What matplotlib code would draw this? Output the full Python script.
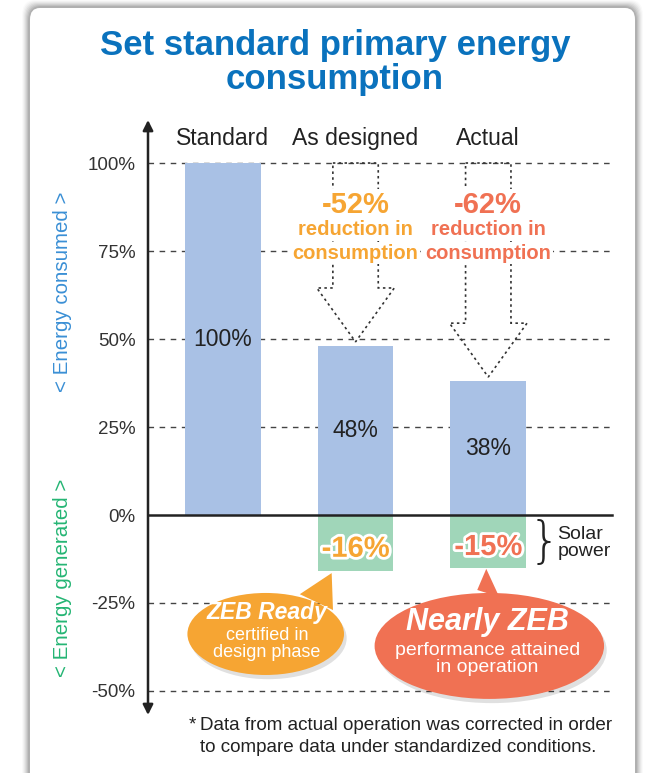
import matplotlib
matplotlib.use("Agg")
import matplotlib.pyplot as plt
from matplotlib.patches import FancyBboxPatch, Ellipse, Polygon
import matplotlib.patheffects as pe

# ---- data ----
categories = ["Standard", "As designed", "Actual"]
consumed = [100, 48, 38]
generated = [-16, -15]          # solar power for "As designed" and "Actual"
reductions = ["-52%", "-62%"]
yticks = [100, 75, 50, 25, 0, -25, -50]
ytick_labels = ["100%", "75%", "50%", "25%", "0%", "-25%", "-50%"]

plt.rcParams['font.family'] = ['Liberation Sans', 'DejaVu Sans']

W, H = 650, 773
fig = plt.figure(figsize=(6.5, 7.73), dpi=100)
fig.patch.set_facecolor('white')

def fx(px): return px / W
def fy(py): return 1 - py / H

# card with soft shadow
for i, a in enumerate([0.02, 0.03, 0.04, 0.05, 0.06, 0.07, 0.08]):
    g = 8 - i
    fig.patches.append(FancyBboxPatch((fx(30 - g), fy(800)), fx(605 + 2 * g), fy(8 - g) - fy(800),
                                      boxstyle="round,pad=0,rounding_size=0.02",
                                      transform=fig.transFigure, facecolor='black', alpha=a,
                                      edgecolor='none', zorder=-10))
fig.patches.append(FancyBboxPatch((fx(30), fy(800)), fx(605), fy(8) - fy(800),
                                  boxstyle="round,pad=0,rounding_size=0.015",
                                  transform=fig.transFigure, facecolor='white',
                                  edgecolor='none', zorder=-9))

title_c = '#0a72bd'
fig.text(fx(335), fy(45), "Set standard primary energy", ha='center', va='center',
         fontsize=25, fontweight='bold', color=title_c)
fig.text(fx(335), fy(80), "consumption", ha='center', va='center',
         fontsize=25, fontweight='bold', color=title_c)

ax = fig.add_axes([fx(148), fy(715), fx(615) - fx(148), fy(120) - fy(715)])
ax.set_facecolor('none')
ax.set_xlim(-0.564, 2.955)
ax.set_ylim(-56.82, 112.22)
for s in ax.spines.values():
    s.set_visible(False)
ax.set_xticks([])
ax.set_yticks(yticks)
ax.set_yticklabels(ytick_labels, fontsize=13.5, color='#333333')
ax.tick_params(axis='y', length=0, pad=9)

# gridlines
for v in yticks:
    if v == 0:
        continue
    ax.axhline(v, color='#444444', lw=1, ls=(0, (4, 4)), zorder=0)
ax.axhline(0, xmax=0.994, color='#222222', lw=1.8, zorder=3)

# vertical axis arrow
ax.annotate('', xy=(0, 1), xytext=(0, 0), xycoords='axes fraction',
            arrowprops=dict(arrowstyle='<|-|>', color='#222222', lw=1.8,
                            mutation_scale=15, shrinkA=0, shrinkB=0), zorder=5)

x = list(range(len(categories)))
bw = 0.571
ax.bar(x, consumed, width=bw, color='#a9c1e5', zorder=2)
ax.bar(x[1:], generated, width=bw, color='#a0d6b9', zorder=2)

for xi, c in zip(x, categories):
    ax.text(xi, 107.1, c, ha='center', va='center', fontsize=16.5, color='#222222')

for xi, v in zip(x, consumed):
    ax.text(xi, v / 2, f"{v}%", ha='center', va='center', fontsize=16.5, color='#222222', zorder=4)

red_cols = ['#f6a533', '#f07153']
for xi, v, col in zip(x[1:], generated, red_cols):
    ax.text(xi, v / 2 - 1.6, f"{v}%", ha='center', va='center', fontsize=21, fontweight='bold',
            color=col, zorder=4,
            path_effects=[pe.withStroke(linewidth=4, foreground='white')])

# dotted reduction arrows
for xi, v, lab, col in zip(x[1:], consumed[1:], reductions, red_cols):
    tip = v + 1.2
    base = tip + 15.3
    sh, hh = 0.171, 0.292
    pts = [(xi - sh, consumed[0]), (xi + sh, consumed[0]), (xi + sh, base), (xi + hh, base),
           (xi, tip), (xi - hh, base), (xi - sh, base)]
    ax.add_patch(Polygon(pts, closed=True, fill=False, ls=(0, (1.5, 2)), lw=1.2,
                         edgecolor='#333333', zorder=3))
    ax.text(xi, 88.2, lab, ha='center', va='center', fontsize=21, fontweight='bold', color=col,
            zorder=6, bbox=dict(facecolor='white', edgecolor='none', pad=1))
    ax.text(xi, 81.0, "reduction in", ha='center', va='center', fontsize=14.5,
            fontweight='bold', color=col, zorder=6,
            bbox=dict(facecolor='white', edgecolor='none', pad=1))
    ax.text(xi, 74.4, "consumption", ha='center', va='center', fontsize=14.5,
            fontweight='bold', color=col, zorder=6,
            bbox=dict(facecolor='white', edgecolor='none', pad=1))

# bubbles
def bubble(cx, cy, w, h, tri, col):
    ax.add_patch(Ellipse((cx + 0.02, cy - 1.2), w, h, facecolor='black', alpha=0.12,
                         edgecolor='none', zorder=6))
    ax.add_patch(Polygon(tri, closed=True, facecolor=col, edgecolor='none', zorder=7))
    ax.add_patch(Ellipse((cx, cy), w, h, facecolor=col, edgecolor='none', zorder=7))

bubble(0.323, -33.8, 1.18, 23.3, [(0.58, -22.5), (0.82, -16.5), (0.83, -27.0)], '#f6a533')
bubble(2.008, -37.2, 1.729, 30.1, [(1.917, -21.3), (1.985, -15.3), (2.083, -23.3)], '#f07153')

ax.text(0.331, -27.8, "ZEB Ready", ha='center', va='center', fontsize=16.5, fontweight='bold',
        style='italic', color='white', zorder=8)
ax.text(0.331, -36.6, "certified in\ndesign phase", ha='center', va='center', fontsize=13,
        color='white', linespacing=1.0, zorder=8)
ax.text(1.992, -30.4, "Nearly ZEB", ha='center', va='center', fontsize=22, fontweight='bold',
        style='italic', color='white', zorder=8)
ax.text(1.992, -41.0, "performance attained\nin operation", ha='center', va='center',
        fontsize=14, color='white', linespacing=1.0, zorder=8)

# solar power brace
ax.text(2.425, -8.0, "}", ha='center', va='center', fontsize=36, color='#222222',
        family=['DejaVu Sans'], fontweight='light')
ax.text(2.52, -8.0, "Solar\npower", ha='left', va='center', fontsize=14, color='#222222',
        linespacing=1.0)

# side labels
fig.text(fx(62), fy(292), "< Energy consumed >", rotation=90, ha='center', va='center',
         fontsize=14.8, color='#3a8fd5')
fig.text(fx(62), fy(578), "< Energy generated >", rotation=90, ha='center', va='center',
         fontsize=14.8, color='#25b574')

# footnote
fig.text(fx(192), fy(725), "*", ha='center', va='center', fontsize=13.5, color='#222222')
fig.text(fx(200), fy(725), "Data from actual operation was corrected in order",
         ha='left', va='center', fontsize=13.6, color='#222222')
fig.text(fx(200), fy(747), "to compare data under standardized conditions.",
         ha='left', va='center', fontsize=13.6, color='#222222')

fig.savefig("out.png", dpi=100, facecolor=fig.get_facecolor())
